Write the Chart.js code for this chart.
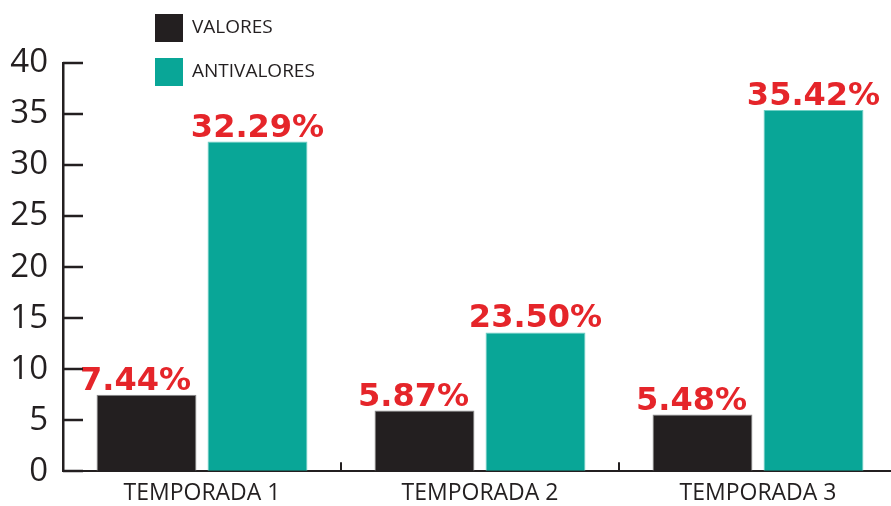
<!DOCTYPE html>
<html>
<head>
<meta charset="utf-8">
<script src="https://cdn.jsdelivr.net/npm/chart.js@4.4.1/dist/chart.umd.min.js"></script>
<style>
  html, body { margin:0; padding:0; background:#fff; overflow:hidden; }
  #wrap { position:relative; width:891px; height:506px; overflow:hidden; }
  canvas { position:absolute; left:0; top:0; }
  .leg { position:absolute; left:155px; font-family:"Open Sans", sans-serif; font-size:19px; color:#231f20; }
  .leg span.box { position:absolute; left:0; width:28px; height:28px; }
  .leg span.txt { position:absolute; left:37px; top:-2px; white-space:nowrap; line-height:28px; }
</style>
</head>
<body>
<div id="wrap">
  <canvas id="grafico" width="897" height="506"></canvas>
  <div class="leg" style="top:14px"><span class="box" style="background:#231f20"></span><span class="txt">VALORES</span></div>
  <div class="leg" style="top:58px"><span class="box" style="background:#09a697"></span><span class="txt">ANTIVALORES</span></div>
</div>
<script>
// ----- DATOS ----- //
const CATEGORIAS = ["TEMPORADA 1", "TEMPORADA 2", "TEMPORADA 3"];
const VALORES = [7.49, 5.94, 5.55];          // altura de barra
const ANTIVALORES = [32.3, 13.6, 35.4];      // ojo: la barra de T2 está dibujada más baja que su rótulo
const ETIQ_VALORES = ["7.44%", "5.87%", "5.48%"];
const ETIQ_ANTIVALORES = ["32.29%", "23.50%", "35.42%"];
const Y_MIN = 0, Y_MAX = 40, Y_PASO = 5;

const NEGRO = "#231f20";
const VERDE = "#09a697";
const ROJO = "#e5252a";

// ----- PLUGIN: marcas de eje hacia dentro ----- //
const marcasEje = {
    id: "marcasEje",
    afterDraw(chart) {
        const ctx = chart.ctx, y = chart.scales.y, x = chart.scales.x, a = chart.chartArea;
        ctx.save();
        ctx.strokeStyle = NEGRO;
        ctx.lineWidth = 2.5;
        y.ticks.forEach(t => {
            const py = Math.round(y.getPixelForValue(t.value));
            ctx.beginPath(); ctx.moveTo(a.left, py); ctx.lineTo(a.left + 20, py); ctx.stroke();
        });
        ctx.lineWidth = 2;
        for (let i = 0; i < CATEGORIAS.length - 1; i++) {
            const px = Math.round((x.getPixelForValue(i) + x.getPixelForValue(i + 1)) / 2);
            ctx.beginPath(); ctx.moveTo(px, a.bottom); ctx.lineTo(px, a.bottom - 9); ctx.stroke();
        }
        ctx.restore();
    }
};

// ----- PLUGIN: rótulos de porcentaje ----- //
const rotulos = {
    id: "rotulos",
    afterDatasetsDraw(chart) {
        const ctx = chart.ctx;
        const textos = [ETIQ_VALORES, ETIQ_ANTIVALORES];
        const desplaz = [-11, 0];
        ctx.save();
        ctx.fillStyle = ROJO;
        ctx.font = "bold 32px 'DejaVu Sans'";
        ctx.textAlign = "center";
        ctx.textBaseline = "alphabetic";
        chart.data.datasets.forEach((ds, di) => {
            chart.getDatasetMeta(di).data.forEach((bar, i) => {
                ctx.fillText(textos[di][i], bar.x + desplaz[di], bar.y - 5);
            });
        });
        ctx.restore();
    }
};

new Chart(document.getElementById("grafico"), {
    type: "bar",
    data: {
        labels: CATEGORIAS,
        datasets: [
            {label: "VALORES", data: VALORES, backgroundColor: NEGRO, borderColor: "#8a8a8a", borderWidth: 1},
            {label: "ANTIVALORES", data: ANTIVALORES, backgroundColor: VERDE, borderColor: "#6fd0c5", borderWidth: 1}
        ]
    },
    options: {
        responsive: false,
        animation: false,
        layout: {padding: {top: 63, right: 0, bottom: 0, left: 0}},
        categoryPercentage: 0.7986,
        barPercentage: 0.9,
        plugins: {legend: {display: false}, tooltip: {enabled: false}},
        scales: {
            y: {
                min: Y_MIN, max: Y_MAX,
                ticks: {stepSize: Y_PASO, color: NEGRO, padding: 15, font: {family: "'Open Sans'", size: 33}},
                grid: {drawOnChartArea: false, drawTicks: false},
                border: {color: NEGRO, width: 2.5},
                afterFit(s) { s.width = 63; }
            },
            x: {
                ticks: {color: NEGRO, padding: 11, font: {family: "'Open Sans'", size: 23, lineHeight: 1}},
                grid: {drawOnChartArea: false, drawTicks: false},
                border: {color: NEGRO, width: 2},
                afterFit(s) { s.height = 30; }
            }
        }
    },
    plugins: [marcasEje, rotulos]
});
</script>
</body>
</html>
